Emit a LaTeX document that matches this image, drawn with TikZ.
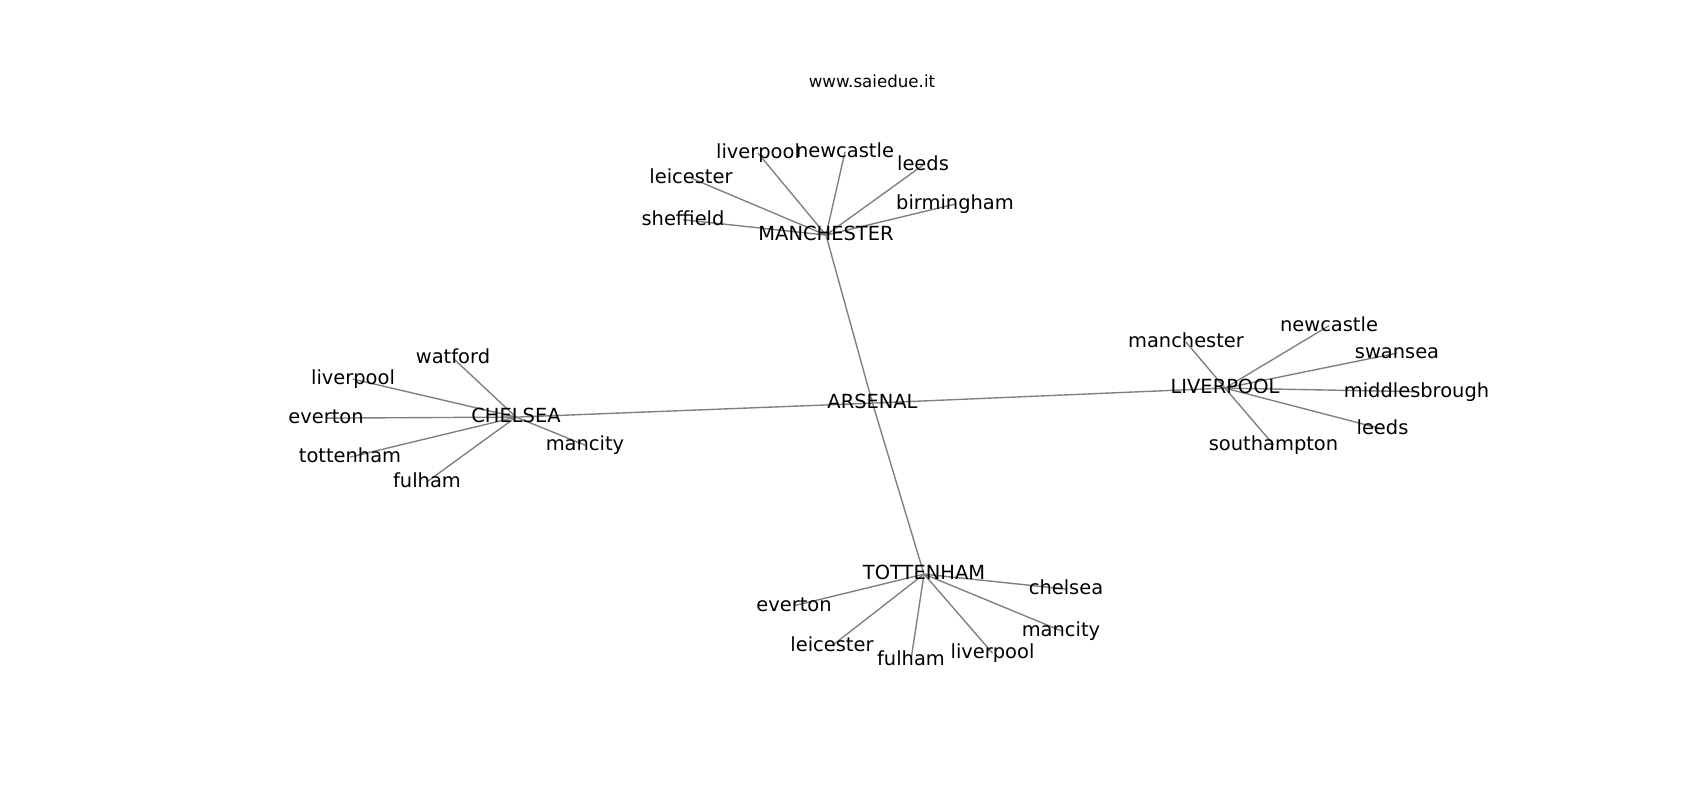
\documentclass[tikz,border=0pt]{standalone}
\usepackage{fontspec}
\setmainfont{DejaVu Sans}
\pgfdeclarelayer{bg}
\pgfsetlayers{bg,main}
\begin{document}
\begin{tikzpicture}[x=0.72pt,y=-0.72pt,
  lbl/.style={inner sep=0pt, outer sep=0pt, text height=10.64pt, text depth=2.91pt, font=\fontsize{14pt}{16pt}\selectfont},
  ttl/.style={inner sep=0pt, outer sep=0pt, text height=9.12pt, text depth=2.5pt, font=\fontsize{12pt}{14pt}\selectfont},
  edge/.style={draw=gray, line width=1pt}]
\useasboundingbox (0,0) rectangle (1700,800);
\node[ttl] (title) at (872,83) {www.saiedue.it};
\begin{scope}[yshift=-0.8pt]
% hubs
\node[lbl] (ars) at (872.5,402) {ARSENAL};
\node[lbl] (man) at (826,234) {MANCHESTER};
\node[lbl] (che) at (516,416) {CHELSEA};
\node[lbl] (liv) at (1225,387) {LIVERPOOL};
\node[lbl] (tot) at (924,573) {TOTTENHAM};
% manchester leaves
\node[lbl] (mliv) at (758,152) {liverpool};
\node[lbl] (mnew) at (845,150.6) {newcastle};
\node[lbl] (mlee) at (923,164) {leeds};
\node[lbl] (mlei) at (691,177) {leicester};
\node[lbl] (mbir) at (955,203) {birmingham};
\node[lbl] (mshe) at (683,218.6) {sheffield};
% chelsea leaves
\node[lbl] (cwat) at (453,357) {watford};
\node[lbl] (cliv) at (353,378) {liverpool};
\node[lbl] (ceve) at (326,417) {everton};
\node[lbl] (ctot) at (350,456) {tottenham};
\node[lbl] (cful) at (427,480.6) {fulham};
\node[lbl] (cman) at (585,444) {mancity};
% liverpool leaves
\node[lbl] (lman) at (1186,341) {manchester};
\node[lbl] (lnew) at (1329,324.6) {newcastle};
\node[lbl] (lswa) at (1397,352) {swansea};
\node[lbl] (lmid) at (1416.5,390.6) {middlesbrough};
\node[lbl] (llee) at (1382.5,428) {leeds};
\node[lbl] (lsou) at (1273.5,443.6) {southampton};
% tottenham leaves
\node[lbl] (tche) at (1066,588) {chelsea};
\node[lbl] (teve) at (794,604.6) {everton};
\node[lbl] (tman) at (1061,629.6) {mancity};
\node[lbl] (tlei) at (832,644.6) {leicester};
\node[lbl] (tful) at (911,658.6) {fulham};
\node[lbl] (tliv) at (992.5,652) {liverpool};
\end{scope}
\begin{pgfonlayer}{bg}
\foreach \a/\b in {ars/man,ars/che,ars/liv,ars/tot,
  man/mliv,man/mnew,man/mlee,man/mlei,man/mbir,man/mshe,
  che/cwat,che/cliv,che/ceve,che/ctot,che/cful,che/cman,
  liv/lman,liv/lnew,liv/lswa,liv/lmid,liv/llee,liv/lsou,
  tot/tche,tot/teve,tot/tman,tot/tlei,tot/tful,tot/tliv}
  \draw[edge] (\a.center) -- (\b.center);
\end{pgfonlayer}
\end{tikzpicture}
\end{document}
